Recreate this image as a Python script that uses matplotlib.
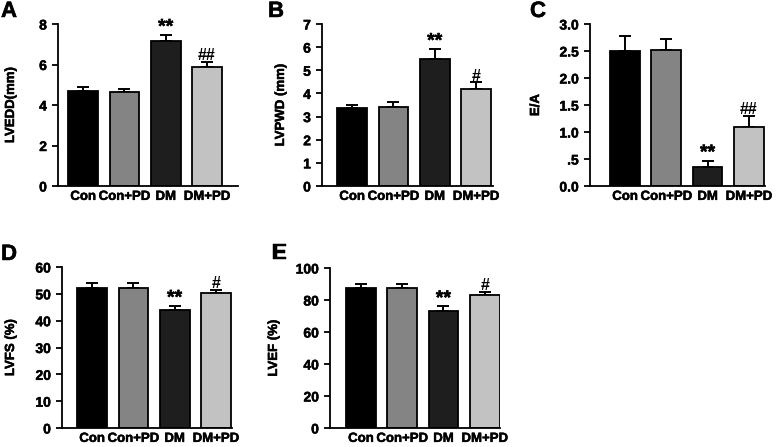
import matplotlib
matplotlib.use('Agg')
from matplotlib import pyplot as plt
from matplotlib import patheffects

groups = ['Con', 'Con+PD', 'DM', 'DM+PD']
bar_colors = ['#000000', '#848484', '#1e1e1e', '#c2c2c2']

lvedd = [4.71, 4.66, 7.18, 5.88]
lvedd_err = [0.20, 0.13, 0.28, 0.24]
lvedd_marks = ['', '', '**', '##']

lvpwd = [3.36, 3.43, 5.47, 4.18]
lvpwd_err = [0.14, 0.19, 0.45, 0.30]
lvpwd_marks = ['', '', '**', '#']

e_a = [2.50, 2.52, 0.36, 1.09]
e_a_err = [0.28, 0.20, 0.11, 0.21]
e_a_marks = ['', '', '**', '##']

lvfs = [52.3, 52.1, 43.8, 50.2]
lvfs_err = [1.9, 1.8, 1.7, 1.3]
lvfs_marks = ['', '', '**', '#']

lvef = [87.8, 87.4, 72.9, 83.2]
lvef_err = [2.2, 2.4, 3.1, 2.1]
lvef_marks = ['', '', '**', '#']

W, H = 778, 447
plt.rcParams['font.family'] = ['Liberation Sans', 'DejaVu Sans']
plt.rcParams['font.weight'] = 'bold'

# slight stroke so the text looks as heavy as in the scanned figure
heavy = [patheffects.withStroke(linewidth=0.35, foreground='black')]


def draw_panel(fig, box, xlim, means, errs, marks, ylabel, yticks, yticklabels, label_x, letter, letter_xy):
    left, top, right, bottom = box
    ax = fig.add_axes([left / W, 1 - bottom / H, (right - left) / W, (bottom - top) / H])
    x = list(range(len(means)))
    ax.bar(x, means, width=0.72, color=bar_colors, edgecolor='black', linewidth=1.3, zorder=2)
    ax.errorbar(x, means, yerr=[[0] * len(errs), errs], fmt='none', ecolor='black',
                elinewidth=1.4, capsize=4.5, capthick=1.4, zorder=1)
    for a, m, e, s in zip(x, means, errs, marks):
        if s:
            fs = 14 if s.startswith('*') else 11.5
            t = ax.annotate(s, (a, m + e), xytext=(0, -1), textcoords='offset points',
                            ha='center', va='bottom', fontsize=fs, fontweight='bold')
            if s.startswith('*'):
                t.set_path_effects(heavy)
    ax.set_xlim(*xlim)
    ax.set_ylim(yticks[0], yticks[-1])
    ax.set_yticks(yticks)
    ax.set_yticklabels(yticklabels, fontsize=10, fontweight='bold')
    ax.set_xticks(x)
    ax.set_xticklabels(groups, fontsize=9.5, fontweight='bold')
    ax.tick_params(axis='x', length=0, pad=3.5)
    ax.tick_params(axis='y', length=4, width=1.3, direction='out', pad=4)
    for lab in ax.get_xticklabels() + ax.get_yticklabels():
        lab.set_path_effects(heavy)
    for side in ['top', 'right']:
        ax.spines[side].set_visible(False)
    for side in ['left', 'bottom']:
        ax.spines[side].set_linewidth(1.3)
    yl = ax.set_ylabel(ylabel, fontsize=9.5, fontweight='bold')
    yl.set_path_effects(heavy)
    ax.yaxis.set_label_coords((label_x - left) / (right - left), 0.5)
    lt = fig.text(letter_xy[0] / W, 1 - letter_xy[1] / H, letter, fontsize=16,
                  fontweight='bold', ha='left', va='top')
    lt.set_path_effects(heavy)
    return ax


def main():
    fig = plt.figure(figsize=(W / 100, H / 100), dpi=100)

    draw_panel(fig, (58, 24, 238, 186), (-0.61, 3.75), lvedd, lvedd_err, lvedd_marks,
               'LVEDD(mm)', [0, 2, 4, 6, 8], ['0', '2', '4', '6', '8'], 17, 'A', (1, 1))
    draw_panel(fig, (322, 24, 493, 186), (-0.73, 3.41), lvpwd, lvpwd_err, lvpwd_marks,
               'LVPWD (mm)', [0, 1, 2, 3, 4, 5, 6, 7], [str(i) for i in range(8)], 287, 'B', (268, 1))
    draw_panel(fig, (590, 24, 765, 186), (-0.85, 3.39), e_a, e_a_err, e_a_marks,
               'E/A', [0, 0.5, 1.0, 1.5, 2.0, 2.5, 3.0],
               ['0.0', '.5', '1.0', '1.5', '2.0', '2.5', '3.0'], 542, 'C', (530, 1))
    draw_panel(fig, (62, 267, 232, 428), (-0.73, 3.39), lvfs, lvfs_err, lvfs_marks,
               'LVFS (%)', [0, 10, 20, 30, 40, 50, 60],
               ['0', '10', '20', '30', '40', '50', '60'], 17, 'D', (1, 244))
    draw_panel(fig, (330, 268, 500, 428), (-0.75, 3.37), lvef, lvef_err, lvef_marks,
               'LVEF (%)', [0, 20, 40, 60, 80, 100],
               ['0', '20', '40', '60', '80', '100'], 280, 'E', (272, 243))

    plt.savefig('out.png', dpi=100)


if __name__ == '__main__':
    main()
